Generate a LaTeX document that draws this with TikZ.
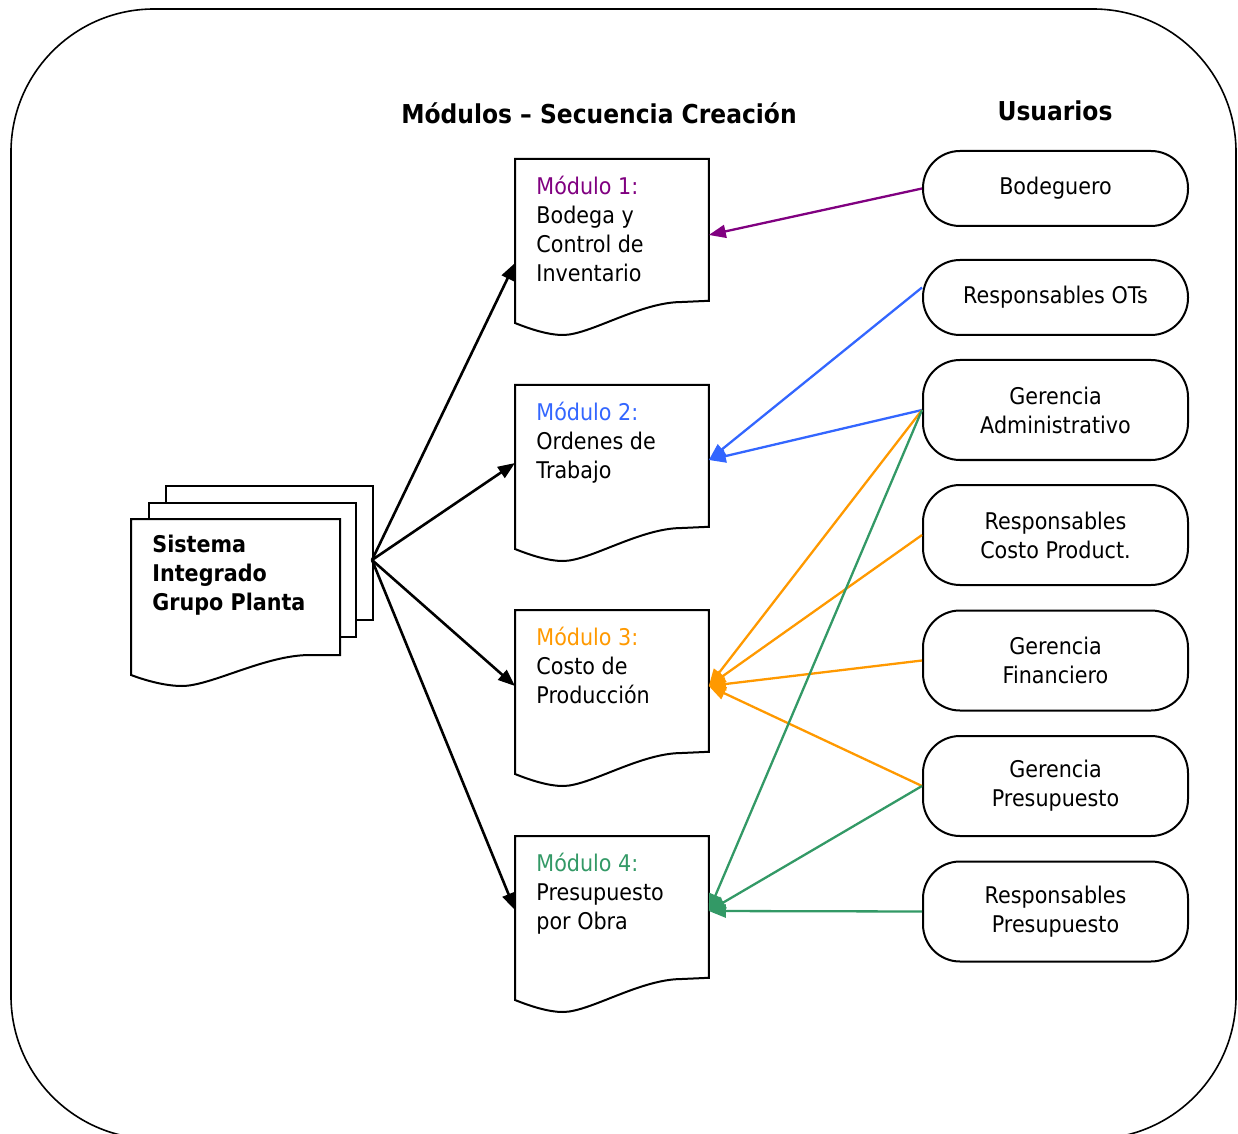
\documentclass[tikz,border=0pt]{standalone}
\usepackage{fontspec}
\setmainfont{DejaVu Sans}[FakeStretch=0.9]
\usetikzlibrary{arrows.meta,positioning}
\definecolor{modpurple}{HTML}{800080}
\definecolor{modblue}{HTML}{3366FF}
\definecolor{modorange}{HTML}{FF9900}
\definecolor{modgreen}{HTML}{339966}

\tikzset{
  page/.style={draw, line width=1pt, fill=white, minimum width=103.5pt, minimum height=67pt, inner sep=0pt, anchor=north west},
  module/.style={minimum width=96.5pt, minimum height=70.5pt, inner sep=0pt, anchor=north west},
  doctext/.style={align=left, inner sep=0pt},
  heading/.style={font=\fontsize{13}{15}\selectfont\bfseries},
  user/.style={draw, line width=1pt, fill=white, rounded corners=18.5pt, minimum width=132.5pt, minimum height=50pt, align=center, inner sep=0pt},
  docline/.style={line width=1pt},
  flow/.style={-{Triangle[length=8.5pt,width=6.5pt]}, line width=1.3pt},
  link/.style={-{Triangle[length=8.5pt,width=6.5pt]}, line width=1.15pt, draw=#1},
}
% bottom edge of a document page, from its lower left corner
\newcommand{\docwave}{.. controls +(15,6) and +(-15,0) .. ++(48,12) .. controls +(27,0) and +(-42,0) .. ++(119,-33)}

\begin{document}
\begin{tikzpicture}[x=0.5pt, y=-0.5pt, font=\fontsize{11.5}{14.5}\selectfont]
  \useasboundingbox (0,0) rectangle (1238,1134);
  \draw[line width=0.8pt, rounded corners=71.5pt] (11,9) rectangle (1236,1139);

  \node[heading] (ttlmod) at (599,113) {Módulos – Secuencia Creación};
  \node[heading] (ttlusr) at (1055,111) {Usuarios};

  % stacked pages
  \node[page] (sys3) at (165,485) {};
  \node[page] (sys2) at (148,502) {};
  \node[page, draw=none, fill=none] (sys) at (131,519) {};
  \draw[docline, fill=white] (sys.south east) -- (sys.north east) -- (sys.north west) -- ++(0,156)
    .. controls +(16,6) and +(-16,0) .. ++(51,11) .. controls +(29,0) and +(-45,0) .. ++(128,-31) -- cycle;
  \node[doctext, font=\fontsize{11.5}{14.3}\selectfont\bfseries] (systxt) [below right=8pt and 10.5pt of sys.north west]
    {Sistema\\Integrado\\Grupo Planta};
  \coordinate (hub) at (372,560);

  % modules
  \node[module] (m1) at (515,159) {};
  \node[module] (m2) at (515,385) {};
  \node[module] (m3) at (515,610) {};
  \node[module] (m4) at (515,836) {};
  \foreach \m in {m1,m2,m3,m4}
    \draw[docline] (\m.south east) -- (\m.north east) -- (\m.north west) -- ++(0,164) \docwave -- cycle;
  \node[doctext] (m1txt) [below right=8.5pt and 10.5pt of m1.north west]
    {\textcolor{modpurple}{Módulo 1:}\\Bodega y\\Control de\\Inventario};
  \node[doctext] (m2txt) [below right=8.5pt and 10.5pt of m2.north west]
    {\textcolor{modblue}{Módulo 2:}\\Ordenes de\\Trabajo};
  \node[doctext] (m3txt) [below right=8.5pt and 10.5pt of m3.north west]
    {\textcolor{modorange}{Módulo 3:}\\Costo de\\Producción};
  \node[doctext] (m4txt) [below right=8.5pt and 10.5pt of m4.north west]
    {\textcolor{modgreen}{Módulo 4:}\\Presupuesto\\por Obra};
  \coordinate (m1in) at ([yshift=-38pt]m1.north east);
  \coordinate (m2in) at ([yshift=-37.5pt]m2.north east);
  \coordinate (m3in) at ([yshift=-38pt]m3.north east);
  \coordinate (m4in) at ([yshift=-37.5pt]m4.north east);

  % users
  \node[user, minimum height=37.5pt] (bod) at (1055.5,188.5) {Bodeguero};
  \node[user, minimum height=37.5pt] (rot) at (1055.5,297.5) {Responsables OTs};
  \node[user] (gadm) at (1055.5,410)   {Gerencia\\Administrativo};
  \node[user] (rcp)  at (1055.5,535)   {Responsables\\Costo Product.};
  \node[user] (gfin) at (1055.5,660.5) {Gerencia\\Financiero};
  \node[user] (gpre) at (1055.5,786)   {Gerencia\\Presupuesto};
  \node[user] (rpre) at (1055.5,911.5) {Responsables\\Presupuesto};

  \path[flow] (hub) edge ([yshift=-52pt]m1.north west)
              (hub) edge ([yshift=-39pt]m2.north west)
              (hub) edge ([yshift=-38pt]m3.north west)
              (hub) edge ([yshift=-37pt]m4.north west);

  \path (bod.west)              edge[link=modpurple] (m1in)
        ([yshift=5pt]rot.west)  edge[link=modblue]   (m2in)
        (gadm.west)             edge[link=modblue]   (m2in)
        (gadm.west)             edge[link=modorange] (m3in)
        (rcp.west)              edge[link=modorange] (m3in)
        (gfin.west)             edge[link=modorange] (m3in)
        (gpre.west)             edge[link=modorange] (m3in)
        (gadm.west)             edge[link=modgreen]  (m4in)
        (gpre.west)             edge[link=modgreen]  (m4in)
        (rpre.west)             edge[link=modgreen]  (m4in);
\end{tikzpicture}
\end{document}
